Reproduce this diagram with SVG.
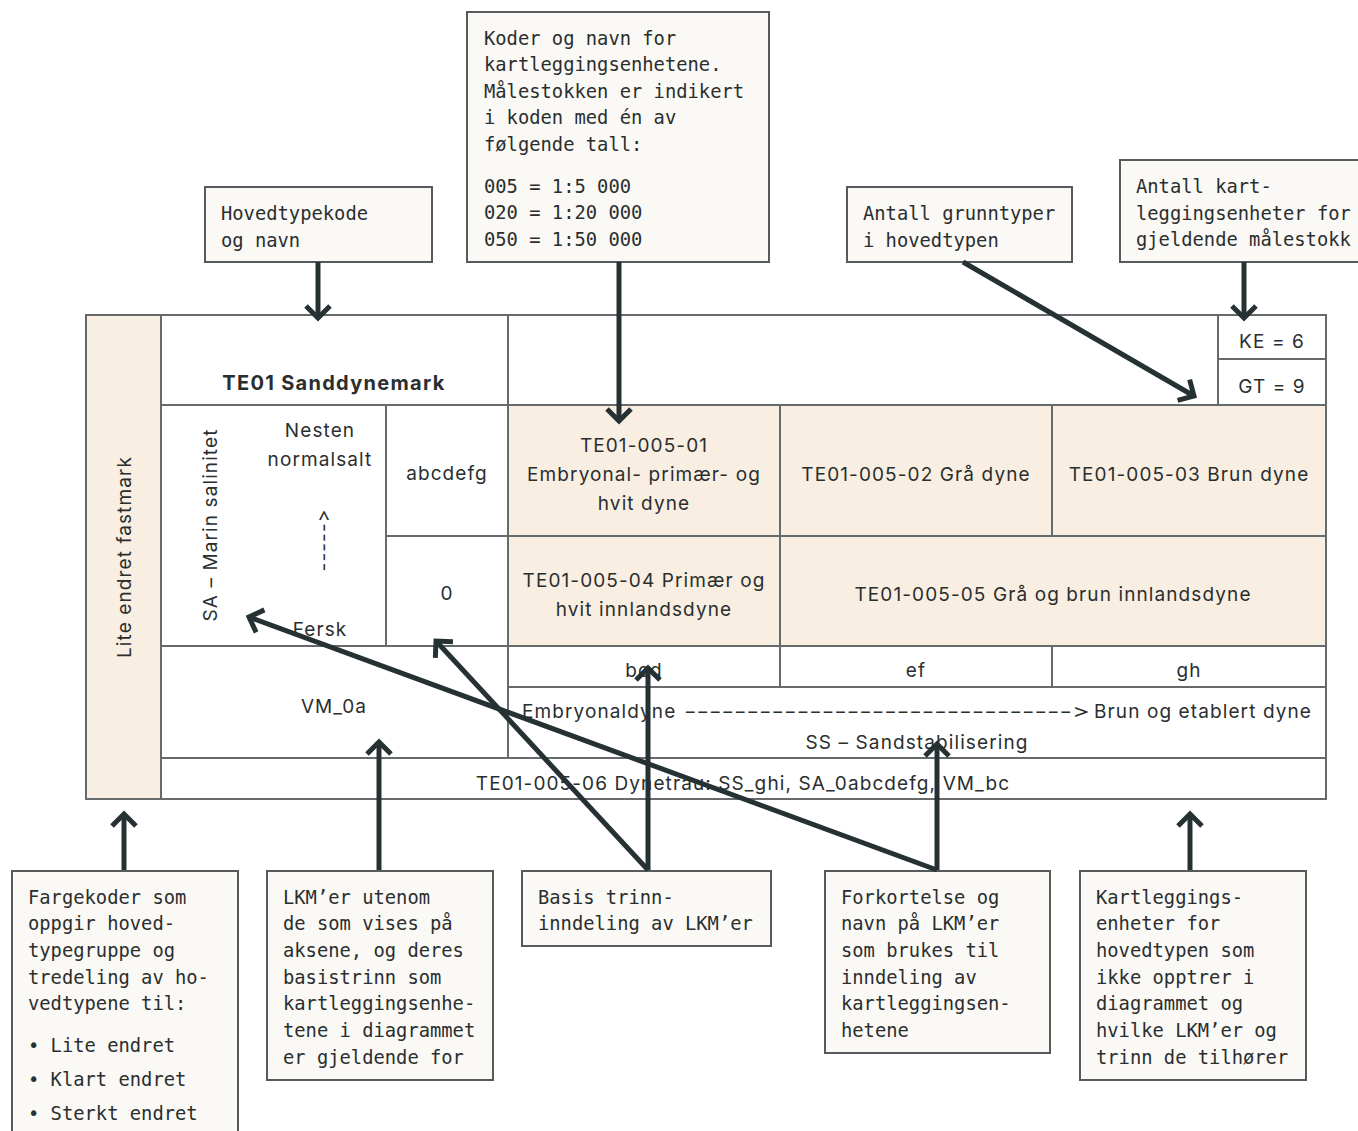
<svg xmlns="http://www.w3.org/2000/svg" width="1358" height="1131" viewBox="0 0 1358 1131">
<defs>
<style>
.bg{fill:#ffffff}
.peach{fill:#f9eee2}
.cell{fill:none;stroke:#666a6b;stroke-width:2}
.note{fill:#fbf9f5;stroke:#555a5b;stroke-width:2}
.mono{font-family:"DejaVu Sans Mono","Liberation Mono",monospace;font-size:18.8px;fill:#2a2e2f}
.sans{font-family:Inter,"Liberation Sans",sans-serif;font-size:19px;letter-spacing:1.1px;fill:#2a2e2f;text-anchor:middle;font-feature-settings:"calt" 0,"liga" 0;font-variant-ligatures:none}
.bold{font-weight:700;font-size:20px;letter-spacing:1.3px}
.start{text-anchor:start}
.arrow{stroke:#263133;stroke-width:5;fill:none;marker-end:url(#head)}
</style>
<marker id="head" viewBox="-16 -16 32 32" refX="0" refY="0" markerWidth="32" markerHeight="32" markerUnits="userSpaceOnUse" orient="auto">
<path d="M-12,-12 L0,0 L-12,12" fill="none" stroke="#263133" stroke-width="5"/>
</marker>
</defs>
<rect class="bg" x="0" y="0" width="1358" height="1131"/>

<g id="table">
<rect class="peach" x="86" y="315" width="75" height="484"/>
<rect class="peach" x="508" y="405" width="818" height="241"/>
<rect class="cell" x="86" y="315" width="1240" height="484"/>
<line class="cell" x1="161" y1="315" x2="161" y2="799"/>
<line class="cell" x1="508" y1="315" x2="508" y2="758"/>
<line class="cell" x1="161" y1="405" x2="1326" y2="405"/>
<line class="cell" x1="386" y1="405" x2="386" y2="646"/>
<line class="cell" x1="386" y1="536" x2="1326" y2="536"/>
<line class="cell" x1="780" y1="405" x2="780" y2="687"/>
<line class="cell" x1="1052" y1="405" x2="1052" y2="536"/>
<line class="cell" x1="1052" y1="646" x2="1052" y2="687"/>
<line class="cell" x1="161" y1="646" x2="1326" y2="646"/>
<line class="cell" x1="508" y1="687" x2="1326" y2="687"/>
<line class="cell" x1="161" y1="758" x2="1326" y2="758"/>
<line class="cell" x1="1218" y1="315" x2="1218" y2="405"/>
<line class="cell" x1="1218" y1="359" x2="1326" y2="359"/>
</g>

<g id="table-text">
<text class="sans" transform="translate(131,557) rotate(-90)">Lite endret fastmark</text>
<text class="sans bold" x="334" y="390">TE01 Sanddynemark</text>
<text class="sans" transform="translate(217,525) rotate(-90)">SA – Marin salinitet</text>
<text class="sans" x="320" y="437">Nesten</text>
<text class="sans" x="320" y="466">normalsalt</text>
<text class="sans" transform="translate(330,540) rotate(-90)">-----&gt;</text>
<text class="sans" x="320" y="636">Fersk</text>
<text class="sans" x="447" y="480">abcdefg</text>
<text class="sans" x="447" y="600">0</text>
<text class="sans" x="644" y="452">TE01-005-01</text>
<text class="sans" x="644" y="481">Embryonal- primær- og</text>
<text class="sans" x="644" y="510">hvit dyne</text>
<text class="sans" x="916" y="481">TE01-005-02 Grå dyne</text>
<text class="sans" x="1189" y="481">TE01-005-03 Brun dyne</text>
<text class="sans" x="644" y="587">TE01-005-04 Primær og</text>
<text class="sans" x="644" y="616">hvit innlandsdyne</text>
<text class="sans" x="1053" y="601">TE01-005-05 Grå og brun innlandsdyne</text>
<text class="sans" x="1272" y="348">KE = 6</text>
<text class="sans" x="1272" y="393">GT = 9</text>
<text class="sans" x="644" y="677">bcd</text>
<text class="sans" x="916" y="677">ef</text>
<text class="sans" x="1189" y="677">gh</text>
<text class="sans" x="334" y="713">VM_0a</text>
<text class="sans start" x="522" y="718">Embryonaldyne <tspan x="684" style="letter-spacing:0" textLength="406" lengthAdjust="spacingAndGlyphs">-------------------------------&gt;</tspan> <tspan x="1312" text-anchor="end">Brun og etablert dyne</tspan></text>
<text class="sans" x="917" y="749">SS – Sandstabilisering</text>
<text class="sans" x="743" y="790">TE01-005-06 Dynetrau: SS_ghi, SA_0abcdefg, VM_bc</text>
</g>

<g id="note-hovedtypekode">
<rect class="note" x="205" y="187" width="227" height="75"/>
<text class="mono" x="221" y="220">Hovedtypekode</text>
<text class="mono" x="221" y="247">og navn</text>
</g>

<g id="note-koder">
<rect class="note" x="467" y="12" width="302" height="250"/>
<text class="mono" x="484" y="45">Koder og navn for</text>
<text class="mono" x="484" y="71">kartleggingsenhetene.</text>
<text class="mono" x="484" y="98">Målestokken er indikert</text>
<text class="mono" x="484" y="124">i koden med én av</text>
<text class="mono" x="484" y="151">følgende tall:</text>
<text class="mono" x="484" y="193">005 = 1:5 000</text>
<text class="mono" x="484" y="219">020 = 1:20 000</text>
<text class="mono" x="484" y="246">050 = 1:50 000</text>
</g>

<g id="note-grunntyper">
<rect class="note" x="847" y="187" width="225" height="75"/>
<text class="mono" x="863" y="220">Antall grunntyper</text>
<text class="mono" x="863" y="247">i hovedtypen</text>
</g>

<g id="note-antall-kart">
<rect class="note" x="1120" y="160" width="250" height="102"/>
<text class="mono" x="1136" y="193">Antall kart-</text>
<text class="mono" x="1136" y="220">leggingsenheter for</text>
<text class="mono" x="1136" y="246">gjeldende målestokk</text>
</g>

<g id="note-fargekoder">
<rect class="note" x="12" y="871" width="226" height="270"/>
<text class="mono" x="28" y="904">Fargekoder som</text>
<text class="mono" x="28" y="930">oppgir hoved-</text>
<text class="mono" x="28" y="957">typegruppe og</text>
<text class="mono" x="28" y="984">tredeling av ho-</text>
<text class="mono" x="28" y="1010">vedtypene til:</text>
<text class="mono" x="28" y="1052">• Lite endret</text>
<text class="mono" x="28" y="1086">• Klart endret</text>
<text class="mono" x="28" y="1120">• Sterkt endret</text>
</g>

<g id="note-lkm-utenom">
<rect class="note" x="267" y="871" width="226" height="209"/>
<text class="mono" x="283" y="904">LKM’er utenom</text>
<text class="mono" x="283" y="930">de som vises på</text>
<text class="mono" x="283" y="957">aksene, og deres</text>
<text class="mono" x="283" y="984">basistrinn som</text>
<text class="mono" x="283" y="1010">kartleggingsenhe-</text>
<text class="mono" x="283" y="1037">tene i diagrammet</text>
<text class="mono" x="283" y="1064">er gjeldende for</text>
</g>

<g id="note-basis">
<rect class="note" x="522" y="871" width="249" height="75"/>
<text class="mono" x="538" y="904">Basis trinn-</text>
<text class="mono" x="538" y="930">inndeling av LKM’er</text>
</g>

<g id="note-forkortelse">
<rect class="note" x="825" y="871" width="225" height="182"/>
<text class="mono" x="841" y="904">Forkortelse og</text>
<text class="mono" x="841" y="930">navn på LKM’er</text>
<text class="mono" x="841" y="957">som brukes til</text>
<text class="mono" x="841" y="984">inndeling av</text>
<text class="mono" x="841" y="1010">kartleggingsen-</text>
<text class="mono" x="841" y="1037">hetene</text>
</g>

<g id="note-kartleggingsenheter">
<rect class="note" x="1080" y="871" width="226" height="209"/>
<text class="mono" x="1096" y="904">Kartleggings-</text>
<text class="mono" x="1096" y="930">enheter for</text>
<text class="mono" x="1096" y="957">hovedtypen som</text>
<text class="mono" x="1096" y="984">ikke opptrer i</text>
<text class="mono" x="1096" y="1010">diagrammet og</text>
<text class="mono" x="1096" y="1037">hvilke LKM’er og</text>
<text class="mono" x="1096" y="1064">trinn de tilhører</text>
</g>

<g id="connectors">
<line class="arrow" x1="318" y1="262" x2="318" y2="318"/>
<line class="arrow" x1="619" y1="262" x2="619" y2="421"/>
<line class="arrow" x1="963" y1="262" x2="1194" y2="396"/>
<line class="arrow" x1="1244" y1="262" x2="1244" y2="318"/>
<line class="arrow" x1="124" y1="870" x2="124" y2="814"/>
<line class="arrow" x1="379" y1="870" x2="379" y2="742"/>
<line class="arrow" x1="648" y1="870" x2="648" y2="668"/>
<line class="arrow" x1="648" y1="870" x2="436" y2="641"/>
<line class="arrow" x1="937" y1="870" x2="937" y2="744"/>
<line class="arrow" x1="937" y1="870" x2="249" y2="617"/>
<line class="arrow" x1="1190" y1="870" x2="1190" y2="814"/>
</g>
</svg>
